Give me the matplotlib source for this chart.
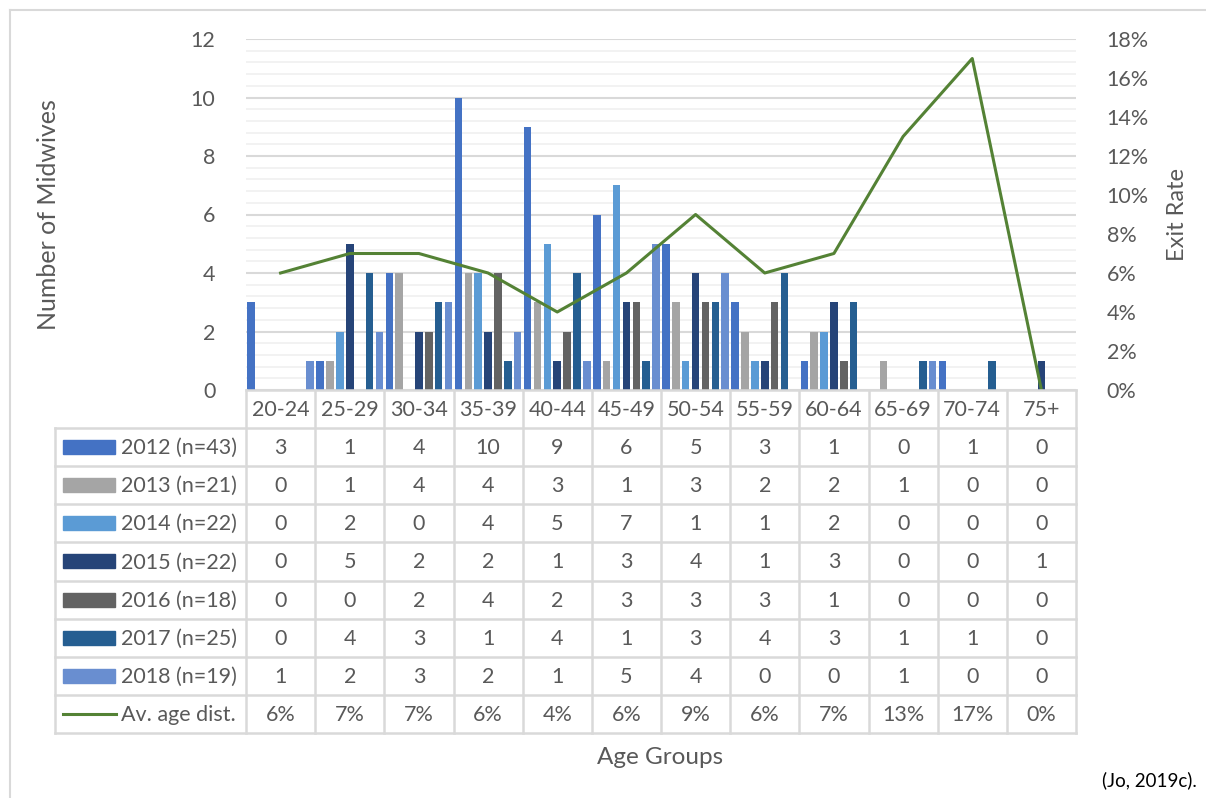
#!/usr/bin/env python3
# Midwives by age group, 2012-2018, with exit rate line and Excel-style data table
import numpy as np
import matplotlib
matplotlib.use("Agg")
import matplotlib.pyplot as plt
from matplotlib.patches import Rectangle
from matplotlib.lines import Line2D

plt.rcParams.update({
  "font.family": ["Lato", "DejaVu Sans"],
  "text.color": "#595959",
})

# --- Data ---
age_groups = ["20-24", "25-29", "30-34", "35-39", "40-44", "45-49",
              "50-54", "55-59", "60-64", "65-69", "70-74", "75+"]
series_names = ["2012 (n=43)", "2013 (n=21)", "2014 (n=22)", "2015 (n=22)",
                "2016 (n=18)", "2017 (n=25)", "2018 (n=19)"]
counts_2012 = [3, 1, 4, 10, 9, 6, 5, 3, 1, 0, 1, 0]
counts_2013 = [0, 1, 4, 4, 3, 1, 3, 2, 2, 1, 0, 0]
counts_2014 = [0, 2, 0, 4, 5, 7, 1, 1, 2, 0, 0, 0]
counts_2015 = [0, 5, 2, 2, 1, 3, 4, 1, 3, 0, 0, 1]
counts_2016 = [0, 0, 2, 4, 2, 3, 3, 3, 1, 0, 0, 0]
counts_2017 = [0, 4, 3, 1, 4, 1, 3, 4, 3, 1, 1, 0]
counts_2018 = [1, 2, 3, 2, 1, 5, 4, 0, 0, 1, 0, 0]
exit_rate = [6, 7, 7, 6, 4, 6, 9, 6, 7, 13, 17, 0]  # percent
line_name = "Av. age dist."

all_counts = [counts_2012, counts_2013, counts_2014, counts_2015,
              counts_2016, counts_2017, counts_2018]
colors = ["#4472C4", "#A5A5A5", "#5B9BD5", "#264478",
          "#636363", "#255E91", "#698ED0"]
line_color = "#548235"
grid_major = "#D9D9D9"
grid_minor = "#F0F0F0"
txt = "#595959"
fs = 15.5

W, H = 1206, 798
fig = plt.figure(figsize=(W / 100, H / 100), dpi=100)

# pixel geometry of plot area
px_l, px_r, px_t, px_b = 246, 1076, 39, 390
ax = fig.add_axes([px_l / W, 1 - px_b / H, (px_r - px_l) / W, (px_b - px_t) / H])

n = len(age_groups)
x = np.arange(n)
slot = 1.0 / 7
for k, (vals, c) in enumerate(zip(all_counts, colors)):
  ax.bar(x + (k - 3) * slot, vals, width=slot * 0.76, color=c, zorder=3)

ax.set_xlim(-0.5, n - 0.5)
ax.set_ylim(0, 12)
ax.set_yticks(np.arange(0, 13, 2))
ax.set_yticks(np.arange(0, 12.01, 0.4), minor=True)
ax.grid(axis="y", which="major", color=grid_major, linewidth=1.5, zorder=0)
ax.grid(axis="y", which="minor", color=grid_minor, linewidth=1.2, zorder=0)
ax.set_xticks([])
for s in ax.spines.values():
  s.set_visible(False)
ax.tick_params(axis="y", which="both", length=0, labelsize=fs, labelcolor=txt, pad=22)
ax.set_ylabel("Number of Midwives", fontsize=18, color=txt)
ax.yaxis.set_label_coords((60 - px_l) / (px_r - px_l), 0.5)

ax2 = ax.twinx()
ax2.plot(x, exit_rate, color=line_color, linewidth=2.2, zorder=4)
ax2.set_ylim(0, 18)
ax2.set_yticks(np.arange(0, 19, 2))
ax2.set_yticklabels([f"{v}%" for v in range(0, 19, 2)])
ax2.tick_params(axis="y", length=0, labelsize=fs, labelcolor=txt, pad=22)
ax2.set_ylabel("Exit Rate", fontsize=17, color=txt)
ax2.yaxis.set_label_coords((1167 - px_l) / (px_r - px_l), 0.5)
for s in ax2.spines.values():
  s.set_visible(False)

# --- Data table drawn in pixel space ---
tab = fig.add_axes([0, 0, 1, 1])
tab.set_xlim(0, W)
tab.set_ylim(H, 0)
tab.axis("off")

col_w = (px_r - px_l) / n
label_l = 55
hdr_t, hdr_b = px_b, 428
row_h = (733 - hdr_b) / 8
lw = 1.8

# chart border (top and left)
tab.add_line(Line2D([10, W], [10, 10], color=grid_major, lw=1.5))
tab.add_line(Line2D([10, 10], [10, H], color=grid_major, lw=1.5))

# header row
for i, g in enumerate(age_groups):
  cx = px_l + (i + 0.5) * col_w
  tab.text(cx, (hdr_t + hdr_b) / 2 + 1, g, ha="center", va="center", fontsize=fs, color=txt)
tab.add_line(Line2D([px_l, px_r], [hdr_t, hdr_t], color=grid_major, lw=lw))
for i in range(n + 1):
  xx = px_l + i * col_w
  tab.add_line(Line2D([xx, xx], [hdr_t, 733], color=grid_major, lw=lw))
tab.add_line(Line2D([label_l, label_l], [hdr_b, 733], color=grid_major, lw=lw))
for r in range(9):
  yy = hdr_b + r * row_h
  tab.add_line(Line2D([label_l, px_r], [yy, yy], color=grid_major, lw=lw))

rows = [(nm, vals, c) for nm, vals, c in zip(series_names, all_counts, colors)]
for r, (nm, vals, c) in enumerate(rows):
  cy = hdr_b + (r + 0.5) * row_h
  tab.add_patch(Rectangle((63, cy - 7), 52, 14, color=c))
  tab.text(121, cy + 1, nm, ha="left", va="center", fontsize=fs, color=txt)
  for i, v in enumerate(vals):
    tab.text(px_l + (i + 0.5) * col_w, cy + 1, str(v), ha="center", va="center",
             fontsize=fs, color=txt)

cy = hdr_b + 7.5 * row_h
tab.add_line(Line2D([63, 116], [cy, cy], color=line_color, lw=2.2))
tab.text(121, cy + 1, line_name, ha="left", va="center", fontsize=fs, color=txt)
for i, v in enumerate(exit_rate):
  tab.text(px_l + (i + 0.5) * col_w, cy + 1, f"{v}%", ha="center", va="center",
           fontsize=fs, color=txt)

tab.text(660, 757, "Age Groups", ha="center", va="center", fontsize=17.5, color=txt)
tab.text(1197, 780, "(Jo, 2019c).", ha="right", va="center", fontsize=13.5, color="black")

fig.savefig("out.png", dpi=100)
